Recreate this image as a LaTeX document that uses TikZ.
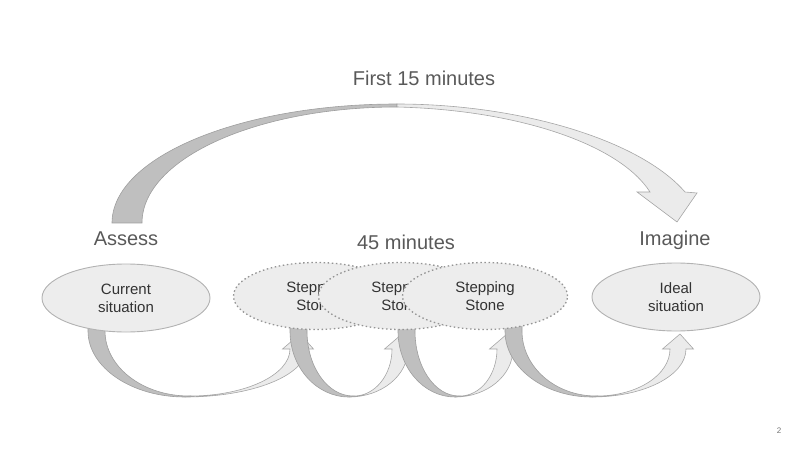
\documentclass[tikz,border=0pt]{standalone}
\usepackage{fontspec}
\setmainfont{Liberation Sans}
\usetikzlibrary{shapes.geometric}

\begin{document}
\begin{tikzpicture}[x=1pt,y=-1pt,
  stage/.style={ellipse,draw=black!30,fill=black!7,line width=0.9pt,minimum width=168pt,minimum height=68pt,inner sep=0pt,align=center,font=\fontsize{15}{18}\selectfont,text=black!80},
  stone/.style={stage,minimum width=165pt,minimum height=67pt,draw=black!42,line width=1.3pt,dash pattern=on 1.5pt off 2.6pt},
  lab/.style={font=\fontsize{20}{24}\selectfont,text=black!65,anchor=base,inner sep=0pt},
  back/.style={fill=black!25,draw=black!38,line width=0.6pt},
  front/.style={fill=black!8,draw=black!35,line width=0.6pt}]
  \useasboundingbox (0,0) rectangle (795,457);
  % big arc over the top
  \draw[back] (112,223) arc[start angle=180,end angle=270,x radius=285,y radius=119]
    -- (397,107) arc[start angle=270,end angle=180,x radius=255,y radius=116] -- cycle;
  \draw[front] (397,104) .. controls (520,104) and (640,140) .. (685,192) -- (697,193) -- (677,222)
    -- (637,192) -- (650,192) .. controls (620,145) and (520,110) .. (397,107) -- cycle;
  % small hops: start / low point / head
  \foreach \s/\m/\h in {88/185/298,290/349/400,398/455/505,505/592/678} {
    \draw[back] (\s,324) -- (\s,331) arc[start angle=180,end angle=90,x radius={\m-\s},y radius=66]
      -- ({\m+4},396) arc[start angle=90,end angle=180,x radius={\m+4-\s-17},y radius=65]
      -- ({\s+17},324) -- cycle;
    \draw[front] (\m,397) arc[start angle=90,end angle=0,x radius={\h+8-\m},y radius=48]
      -- ({\h+15.5},349) -- ({\h+2},334) -- ({\h-15.5},349) -- ({\h-8},349)
      arc[start angle=0,end angle=90,x radius={\h-8-\m-5},y radius=47] -- cycle;
  }
  % ellipses
  \node[stage] (cur) at (126,298) {Current\\situation};
  \foreach \name/\xx in {ss1/316,ss2/401,ss3/485}
    \node[stone] (\name) at (\xx,296) {Stepping\\Stone};
  \node[stage] (ideal) at (676,297) {Ideal\\situation};
  % labels
  \node[lab] (first) at (424,86) {First 15 minutes};
  \node[lab] (assess) at (126,245) {Assess};
  \node[lab] (mid) at (406,249) {45 minutes};
  \node[lab] (imag) at (675,245) {Imagine};
  \node[font=\fontsize{8}{10}\selectfont,text=black!55] (page) at (779,431) {2};
\end{tikzpicture}
\end{document}
